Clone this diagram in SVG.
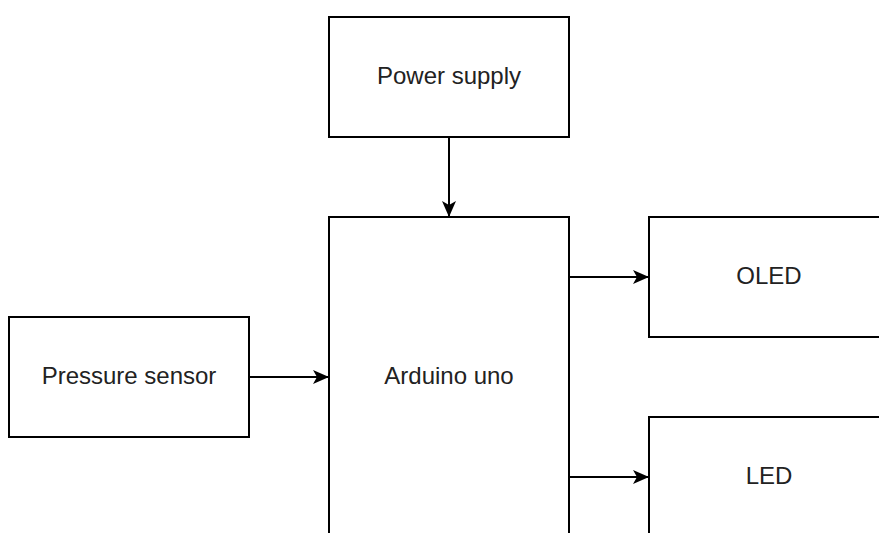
<svg xmlns="http://www.w3.org/2000/svg" width="879" height="533" viewBox="0 0 879 533">
<style>
.box{fill:#fff;stroke:#000;stroke-width:2}
.lbl{font-family:"Liberation Sans",Arial,sans-serif;font-size:24px;fill:#222;text-anchor:middle}
.edge{fill:none;stroke:#000;stroke-width:2}
</style>
<defs>
<marker id="arr" markerUnits="userSpaceOnUse" viewBox="0 0 16 16" markerWidth="16" markerHeight="16" refX="15" refY="8" orient="auto">
<path d="M0,1 L16,8 L0,15 L4,8 Z" fill="#000"/>
</marker>
</defs>
<rect width="879" height="533" fill="#fff"/>
<g id="power">
<rect class="box" x="329" y="17" width="240" height="120"/>
<text class="lbl" x="449" y="84">Power supply</text>
</g>
<g id="arduino">
<rect class="box" x="329" y="217" width="240" height="320"/>
<text class="lbl" x="449" y="384">Arduino uno</text>
</g>
<g id="pressure">
<rect class="box" x="9" y="317" width="240" height="120"/>
<text class="lbl" x="129" y="384">Pressure sensor</text>
</g>
<g id="oled">
<rect class="box" x="649" y="217" width="240" height="120"/>
<text class="lbl" x="769" y="284">OLED</text>
</g>
<g id="led">
<rect class="box" x="649" y="417" width="240" height="120"/>
<text class="lbl" x="769" y="484">LED</text>
</g>
<g id="connectors">
<path class="edge" d="M449,137 L449,216" marker-end="url(#arr)"/>
<path class="edge" d="M249,377 L328,377" marker-end="url(#arr)"/>
<path class="edge" d="M569,277 L648,277" marker-end="url(#arr)"/>
<path class="edge" d="M569,477 L648,477" marker-end="url(#arr)"/>
</g>
</svg>
